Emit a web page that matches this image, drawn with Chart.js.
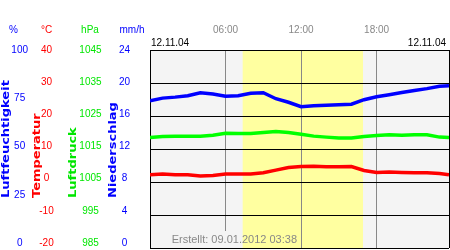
<!DOCTYPE html>
<html>
<head>
<meta charset="utf-8">
<script src="https://cdn.jsdelivr.net/npm/chart.js@4.4.0/dist/chart.umd.min.js"></script>
<style>
  html, body { margin: 0; padding: 0; background: #fff; }
</style>
</head>
<body>
<canvas id="chart" width="450" height="250"></canvas>
<script>
// hours of the day (last sample at the right edge of the plot)
const hours = [0, 1, 2, 3, 4, 5, 6, 7, 8, 9, 10, 11, 12, 13, 14, 15, 16, 17, 18, 19, 20, 21, 22, 23, 23.75];
const humidity = [74.4, 75.7, 76.2, 76.9, 78.4, 77.8, 76.7, 76.9, 78.1, 78.4, 75.4, 73.6, 71.4, 71.9, 72.1, 72.4, 72.6, 74.9, 76.4, 77.4, 78.5, 79.5, 80.5, 81.7, 81.9];
const temperature = [2.2, 2.4, 2.2, 2.2, 1.8, 2.0, 2.4, 2.4, 2.4, 2.8, 3.6, 4.4, 4.7, 4.8, 4.6, 4.6, 4.7, 3.5, 2.9, 3.0, 2.9, 2.8, 2.8, 2.6, 2.2];
const pressure = [1018.5, 1018.8, 1018.9, 1018.9, 1018.9, 1019.2, 1019.8, 1019.7, 1019.7, 1020.0, 1020.3, 1020.0, 1019.5, 1018.9, 1018.6, 1018.3, 1018.3, 1018.8, 1019.1, 1019.3, 1019.2, 1019.3, 1019.3, 1018.6, 1018.5];

const humidityTicks = [0, 25, 50, 75, 100];
const temperatureTicks = [-20, -10, 0, 10, 20, 30, 40];
const pressureTicks = [985, 995, 1005, 1015, 1025, 1035, 1045];
const rainTicks = [0, 4, 8, 12, 16, 20, 24];
const timeTicks = [0, 6, 12, 18];
const daylight = [7.36, 16.92];   // sunrise, sunset in hours
const units = ['%', '°C', 'hPa', 'mm/h'];
const axisTitles = ['Luftfeuchtigkeit', 'Temperatur', 'Luftdruck', 'Niederschlag'];
const dateText = '12.11.04';
const createdText = 'Erstellt: 09.01.2012 03:38';

const X_MAX = 23.75;
const LABEL_SPAN = 193 / 198;  // tick labels are squeezed a bit above the bottom edge
const BLUE = '#0000ff', RED = '#ff0000', GREEN = '#00e600';
const PLOT_BG = '#f4f4f4', DAY_BG = '#ffffa0';
const tickFont = {family: 'Liberation Sans', size: 10};

// scales must not push the plot area inwards
function noPadding(s) {
  s.paddingTop = 0; s.paddingBottom = 0; s.paddingLeft = 0; s.paddingRight = 0;
}

function labelAxis(ticks, color, weight, width, padding) {
  const lo = ticks[0], hi = ticks[ticks.length - 1];
  return {
    type: 'linear',
    position: 'left',
    weight: weight,
    min: hi - (hi - lo) / LABEL_SPAN,
    max: hi,
    afterBuildTicks: s => { s.ticks = ticks.map(v => ({value: v})); },
    afterFit: s => { s.width = width; noPadding(s); },
    ticks: {color: color, font: tickFont, padding: padding, crossAlign: 'center', autoSkip: false, callback: v => String(v)},
    grid: {display: false, drawTicks: false},
    border: {display: false}
  };
}

// paints plot background plus daylight band inside a rectangle
function paintBackground(chart, left, top, right, bottom) {
  const {ctx, scales: {x}} = chart;
  const x0 = Math.max(left, x.getPixelForValue(daylight[0]));
  const x1 = Math.min(right, x.getPixelForValue(daylight[1]));
  ctx.fillStyle = PLOT_BG;
  ctx.fillRect(left, top, right - left, bottom - top);
  if (x1 > x0) {
    ctx.fillStyle = DAY_BG;
    ctx.fillRect(x0, top, x1 - x0, bottom - top);
  }
}

// backgrounds, header texts, rotated titles, dates and footer
const decorations = {
  id: 'decorations',
  beforeDraw(chart) {
    const a = chart.chartArea;
    chart.ctx.save();
    paintBackground(chart, a.left, a.top, a.right, a.bottom);
    chart.ctx.restore();
  },
  afterDraw(chart) {
    const {ctx, chartArea: a} = chart;
    ctx.save();

    // unit headers
    const headerX = [13.5, 46.5, 90, 132];
    const headerColor = [BLUE, RED, GREEN, BLUE];
    ctx.font = '10px "Liberation Sans"';
    ctx.textAlign = 'center';
    ctx.textBaseline = 'middle';
    units.forEach((u, i) => {
      ctx.fillStyle = headerColor[i];
      ctx.fillText(u, headerX[i], 30.5);
    });

    // rotated axis titles
    const titleX = [8.5, 39.5, 76, 115.5];
    axisTitles.forEach((t, i) => {
      ctx.save();
      ctx.translate(titleX[i], 198);
      ctx.rotate(-Math.PI / 2);
      ctx.scale(1, 0.74);
      ctx.font = 'bold 13px "DejaVu Sans"';
      ctx.textAlign = 'left';
      ctx.textBaseline = 'alphabetic';
      ctx.fillStyle = headerColor[i];
      ctx.fillText(t, 0, 0);
      ctx.restore();
    });

    // dates above the plot
    ctx.font = '10px "Liberation Sans"';
    ctx.fillStyle = '#000';
    ctx.textBaseline = 'middle';
    ctx.textAlign = 'left';
    ctx.fillText(dateText, a.left + 1, 43.5);
    ctx.textAlign = 'right';
    ctx.fillText(dateText, a.right - 3, 43.5);

    // footer: its box hides the grid line behind it
    ctx.font = '11px "Liberation Sans"';
    const w = ctx.measureText(createdText).width;
    paintBackground(chart, 297 - w - 3, 231, 299, a.bottom);
    ctx.fillStyle = '#888';
    ctx.textAlign = 'right';
    ctx.fillText(createdText, 297, 240);
    ctx.restore();
  }
};

const ctx = document.getElementById('chart').getContext('2d');
new Chart(ctx, {
  type: 'line',
  data: {
    datasets: [{
      label: 'Luftfeuchtigkeit',
      data: hours.map((h, i) => ({x: h, y: humidity[i]})),
      yAxisID: 'yH',
      borderColor: BLUE,
      borderWidth: 3.5,
      pointRadius: 0,
      tension: 0
    }, {
      label: 'Luftdruck',
      data: hours.map((h, i) => ({x: h, y: pressure[i]})),
      yAxisID: 'yP',
      borderColor: '#00ff00',
      borderWidth: 3.5,
      pointRadius: 0,
      tension: 0
    }, {
      label: 'Temperatur',
      data: hours.map((h, i) => ({x: h, y: temperature[i]})),
      yAxisID: 'yT',
      borderColor: RED,
      borderWidth: 3.5,
      pointRadius: 0,
      tension: 0
    }]
  },
  options: {
    responsive: false,
    animation: false,
    devicePixelRatio: 1,
    layout: {autoPadding: false, padding: {left: 0, top: 0, right: 1, bottom: 2}},
    plugins: {legend: {display: false}, tooltip: {enabled: false}},
    scales: {
      x: {
        type: 'linear',
        position: 'top',
        min: 0,
        max: X_MAX,
        afterBuildTicks: s => { s.ticks = timeTicks.concat([X_MAX]).map(v => ({value: v})); },
        afterFit: s => { s.height = 50; noPadding(s); },
        ticks: {
          color: '#888',
          font: tickFont,
          padding: 13.5,
          maxRotation: 0,
          autoSkip: false,
          callback: v => (v === 0 || v === X_MAX) ? '' : String(v).padStart(2, '0') + ':00'
        },
        grid: {
          color: c => (c.tick && (c.tick.value === 0 || c.tick.value === X_MAX)) ? '#000' : '#888',
          drawTicks: false
        },
        border: {display: false}
      },
      lH: labelAxis(humidityTicks, BLUE, 4, 32, 4),
      lT: labelAxis(temperatureTicks, RED, 3, 24, 2.3),
      lP: labelAxis(pressureTicks, GREEN, 2, 48, 2.4),
      lR: labelAxis(rainTicks, BLUE, 1, 46, 20),
      yT: {
        type: 'linear',
        position: 'left',
        weight: 0,
        min: -20,
        max: 40,
        afterBuildTicks: s => { s.ticks = temperatureTicks.map(v => ({value: v})); },
        afterFit: s => { s.width = 0; noPadding(s); },
        ticks: {display: false},
        grid: {color: '#000', drawTicks: false},
        border: {display: false}
      },
      yH: {type: 'linear', display: false, min: 0, max: 100},
      yP: {type: 'linear', display: false, min: 985, max: 1045}
    }
  },
  plugins: [decorations]
});
</script>
</body>
</html>
